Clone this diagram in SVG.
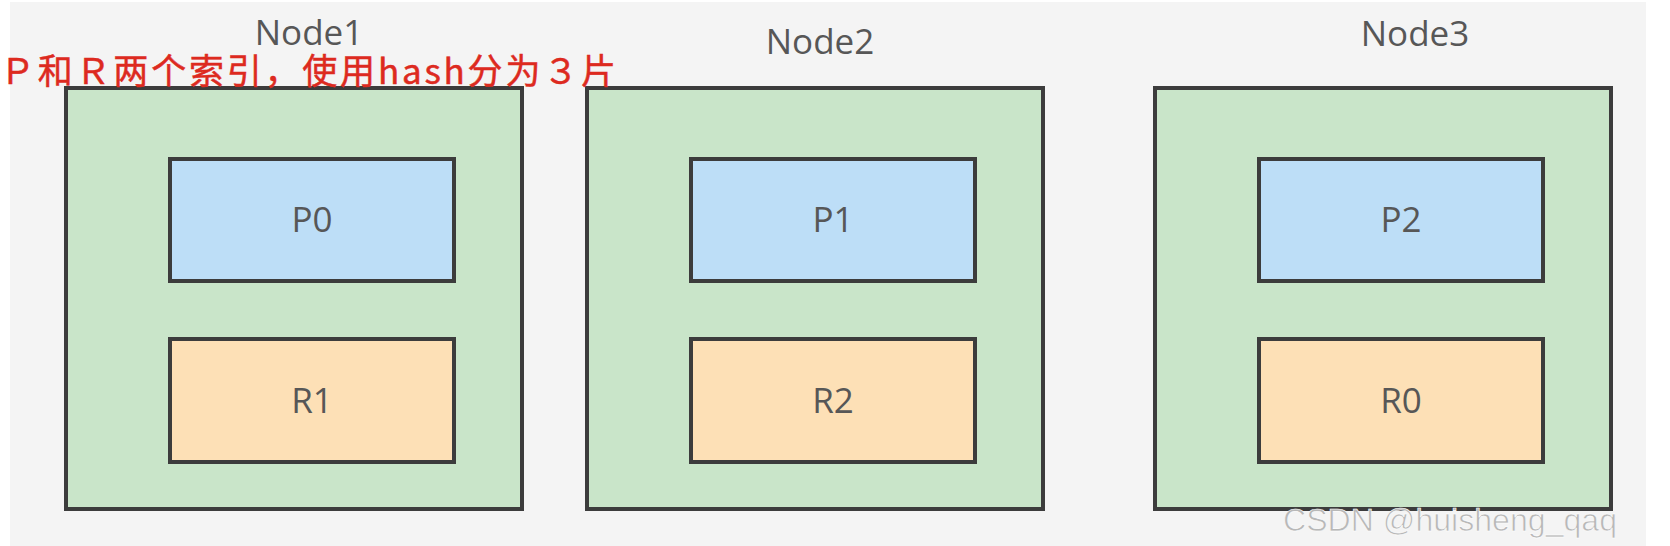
<svg xmlns="http://www.w3.org/2000/svg" width="1670" height="546" viewBox="0 0 1670 546">
<style>
.node{fill:#c9e5c9;stroke:#3c3c3c;stroke-width:4}
.p{fill:#bddef7;stroke:#3c3c3c;stroke-width:4}
.r{fill:#fde0b6;stroke:#3c3c3c;stroke-width:4}
.lbl{font-family:"Open Sans","Noto Sans",sans-serif;font-size:35px;fill:#575757;text-anchor:middle}
.note{font-family:"Noto Sans CJK SC",sans-serif;font-size:35px;font-weight:400;fill:#dd2a1f;stroke:#dd2a1f;stroke-width:0.5}
.wm{font-family:"Liberation Sans",Arial,sans-serif;font-size:32px;fill:#b8b8b8;stroke:#ffffff;stroke-width:0.6}
</style>
<rect x="0" y="0" width="1670" height="546" fill="#ffffff"/>
<rect x="10" y="2" width="1636" height="544" fill="#f4f4f4"/>
<g id="node1">
<rect class="node" x="66" y="88" width="456" height="421"/>
<text class="lbl" x="309" y="45">Node1</text>
<g id="P0"><rect class="p" x="170" y="159" width="284" height="122"/><text class="lbl" x="312" y="232">P0</text></g>
<g id="R1"><rect class="r" x="170" y="339" width="284" height="123"/><text class="lbl" x="312" y="413">R1</text></g>
</g>
<g id="node2">
<rect class="node" x="587" y="88" width="456" height="421"/>
<text class="lbl" x="820" y="54">Node2</text>
<g id="P1"><rect class="p" x="691" y="159" width="284" height="122"/><text class="lbl" x="833" y="232">P1</text></g>
<g id="R2"><rect class="r" x="691" y="339" width="284" height="123"/><text class="lbl" x="833" y="413">R2</text></g>
</g>
<g id="node3">
<rect class="node" x="1155" y="88" width="456" height="421"/>
<text class="lbl" x="1415" y="46">Node3</text>
<g id="P2"><rect class="p" x="1259" y="159" width="284" height="122"/><text class="lbl" x="1401" y="232">P2</text></g>
<g id="R0"><rect class="r" x="1259" y="339" width="284" height="123"/><text class="lbl" x="1401" y="413">R0</text></g>
</g>
<g id="connectors"></g>
<text class="note" x="0" y="84" textLength="616" lengthAdjust="spacing">Ｐ和Ｒ两个索引，使用hash分为３片</text>
<text class="wm" x="1283" y="531" textLength="334" lengthAdjust="spacingAndGlyphs">CSDN @huisheng_qaq</text>
</svg>
